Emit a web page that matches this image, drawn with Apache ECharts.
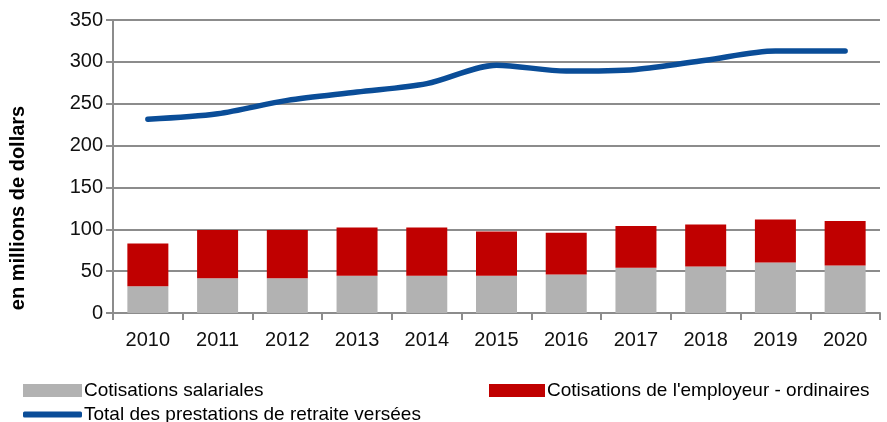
<!DOCTYPE html>
<html>
<head>
<meta charset="utf-8">
<script src="https://cdn.jsdelivr.net/npm/echarts@6/dist/echarts.min.js"></script>
<style>
  html, body { margin: 0; padding: 0; background: #fff; }
  #main { width: 887px; height: 422px; }
</style>
</head>
<body>
<div id="main"></div>
<script>
// données
const years = ['2010', '2011', '2012', '2013', '2014', '2015', '2016', '2017', '2018', '2019', '2020']
const salariales = [32, 41.6, 41.6, 44.5, 44.5, 44.5, 46, 54, 55.6, 60.4, 56.8]
const employeur = [51, 57.4, 57.4, 57.5, 57.5, 53, 50, 50, 50, 51.3, 53.2]
const prestations = [231.5, 238, 254, 264, 274, 296, 289, 291, 302, 313, 313]

const nomSal = 'Cotisations salariales'
const nomEmp = "Cotisations de l'employeur - ordinaires"
const nomTot = 'Total des prestations de retraite versées'

const gris = '#8c8c8c'
const legendText = {
    fontFamily: "'Liberation Sans', sans-serif",
    fontSize: 19,
    color: '#000',
    padding: [0, 0, 0, -3]
}

var myChart = echarts.init(document.getElementById('main'))
let option = {
    animation: false,
    grid: { left: 113, right: 7, top: 20, bottom: 109 },
    legend: [
        { data: [{ name: nomSal, icon: 'rect' }], left: 18, top: 376, itemWidth: 59, itemHeight: 13, textStyle: legendText },
        { data: [{ name: nomEmp, icon: 'rect' }], left: 484, top: 376, itemWidth: 56, itemHeight: 13, textStyle: legendText },
        { data: [{ name: nomTot, icon: 'roundRect' }], left: 18, top: 400, itemWidth: 59, itemHeight: 6, textStyle: legendText }
    ],
    graphic: [
        {
            type: 'text',
            x: 18,
            y: 208,
            rotation: Math.PI / 2,
            style: {
                text: 'en millions de dollars',
                font: "bold 20px 'Liberation Sans', sans-serif",
                fill: '#000',
                textAlign: 'center',
                textVerticalAlign: 'middle'
            }
        }
    ],
    xAxis: {
        type: 'category',
        data: years,
        axisLine: { lineStyle: { color: gris, width: 2 } },
        axisTick: { show: true, length: 7, lineStyle: { color: gris, width: 2 } },
        axisLabel: { fontFamily: "'Liberation Sans', sans-serif", fontSize: 20, color: '#111', margin: 17 }
    },
    yAxis: {
        type: 'value',
        min: 0,
        max: 350,
        interval: 50,
        axisLine: { show: true, lineStyle: { color: gris, width: 2 } },
        axisTick: { show: true, length: 7, lineStyle: { color: gris, width: 2 } },
        axisLabel: { fontFamily: "'Liberation Sans', sans-serif", fontSize: 20, color: '#111', margin: 10 },
        splitLine: { lineStyle: { color: gris, width: 2 } }
    },
    series: [
        {
            name: nomSal,
            type: 'bar',
            stack: 'cot',
            barWidth: 41,
            itemStyle: { color: '#b2b2b2' },
            data: salariales
        },
        {
            name: nomEmp,
            type: 'bar',
            stack: 'cot',
            barWidth: 41,
            itemStyle: { color: '#c00000' },
            data: employeur
        },
        {
            name: nomTot,
            type: 'line',
            smooth: 0.3,
            showSymbol: false,
            symbol: 'none',
            lineStyle: { color: '#0a4d98', width: 5.5, cap: 'round' },
            itemStyle: { color: '#0a4d98' },
            data: prestations
        }
    ]
}
myChart.setOption(option)
</script>
</body>
</html>
